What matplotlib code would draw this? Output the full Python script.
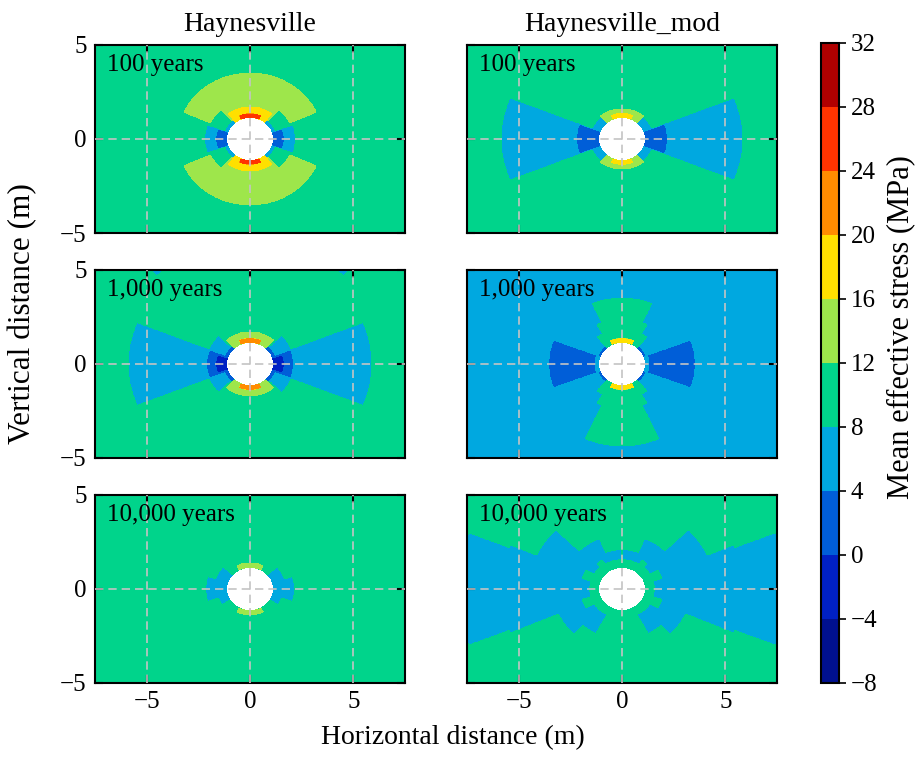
import numpy as np
import matplotlib
matplotlib.use('Agg')
import matplotlib.pyplot as plt

plt.rcParams['font.family'] = ['Liberation Serif', 'DejaVu Serif']
plt.rcParams['axes.unicode_minus'] = True

# contour levels and colours (MPa)
LEVELS = np.arange(-8, 33, 4)
COLORS = ['#00108f', '#0020c4', '#005ed8', '#00a8e0', '#00d48b',
          '#9ee64b', '#ffe000', '#ff8c00', '#ff3400', '#b00000']

CASES = ['Haynesville', 'Haynesville_mod']
TIMES = ['100 years', '1,000 years', '10,000 years']
HOLE_R = 1.13

# far-field stress of each panel (row = time, col = case)
BASE = [[10, 10], [10, 6], [10, 10]]

# zones:
# r_in, r_out (m), angle from horizontal lo, hi (deg), stress (MPa), side (u/d/ud)
hv_100 = [
    (1.1, 3.5, 24, 90, 14, 'ud'),
    (1.1, 2.1, 19, 48, 10, 'ud'),
    (1.1, 2.2, 0, 20, 6, 'ud'),
    (1.1, 1.65, 0, 19, 2, 'ud'),
    (1.1, 1.3, 20, 52, 6, 'ud'),
    (1.1, 1.7, 52, 90, 18, 'ud'),
    (1.15, 1.33, 68, 90, 26, 'ud'),
]
hvm_100 = [
    (1.1, 5.85, 0, 22, 6, 'ud'),
    (1.1, 1.55, 22, 50, 6, 'ud'),
    (1.1, 2.2, 0, 21, 2, 'ud'),
    (1.1, 1.6, 50, 90, 14, 'ud'),
    (1.15, 1.35, 68, 90, 18, 'ud'),
]
hv_1000 = [
    (1.1, 5.9, 0, 22, 6, 'ud'),
    (1.1, 2.15, 22, 45, 6, 'ud'),
    (1.1, 2.1, 0, 21, 2, 'ud'),
    (1.1, 1.65, 0, 17, -2, 'ud'),
    (1.1, 1.3, 21, 48, 2, 'ud'),
    (1.1, 1.7, 48, 90, 14, 'ud'),
    (1.15, 1.35, 68, 90, 22, 'ud'),
    (6.5, 7.0, 46, 49, 6, 'u'),
]
hvm_1000 = [
    (1.1, 2.4, 60, 90, 10, 'ud'),
    (2.4, 3.5, 66, 90, 10, 'u'),
    (2.4, 4.35, 66, 90, 10, 'd'),
    (1.1, 1.85, 50, 90, 10, 'ud'),
    (1.1, 3.55, 0, 21, 2, 'ud'),
    (1.1, 1.3, 0, 20, 6, 'ud'),
    (1.1, 1.25, 20, 50, 2, 'ud'),
    (1.15, 1.35, 66, 90, 18, 'ud'),
]
hv_10000 = [
    (1.1, 2.15, 0, 18, 6, 'ud'),
    (1.1, 1.75, 18, 42, 6, 'u'),
    (1.1, 1.6, 18, 32, 6, 'd'),
    (1.15, 1.38, 63, 90, 14, 'ud'),
]
hvm_10000 = [
    (5.9, 8.0, 0, 22, 6, 'ud'),
    (1.55, 5.9, 0, 23.5, 6, 'ud'),
    (1.55, 4.5, 23.5, 44.5, 6, 'u'),
    (1.55, 2.9, 44.5, 68, 6, 'u'),
    (1.55, 2.1, 68, 90, 6, 'u'),
    (1.55, 3.35, 23.5, 46, 6, 'd'),
    (1.55, 2.7, 46, 62, 6, 'd'),
    (1.55, 2.0, 16, 30, 10, 'ud'),
    (1.55, 1.8, 48, 58, 10, 'u'),
]
ZONES = [[hv_100, hvm_100], [hv_1000, hvm_1000], [hv_10000, hvm_10000]]

x = np.linspace(-7.5, 7.5, 751)
y = np.linspace(-5, 5, 501)
X, Y = np.meshgrid(x, y)


def build_field(base, zones):
    r = np.hypot(X, Y)
    th = np.degrees(np.arctan2(np.abs(Y), np.abs(X)))
    up = Y >= 0
    f = np.full(X.shape, float(base))
    for r0, r1, t0, t1, val, side in zones:
        m = (r >= r0) & (r < r1) & (th >= t0) & (th < t1)
        if side == 'u':
            m &= up
        elif side == 'd':
            m &= ~up
        f[m] = val
    f[r < HOLE_R] = np.nan
    return np.ma.masked_invalid(f)


fig = plt.figure(figsize=(9.2, 7.57), dpi=100)
col_left = [0.1033, 0.5076]
row_bottom = [0.6922, 0.395, 0.0978]
w, h = 0.337, 0.2484

for i in range(3):
    for j in range(2):
        ax = fig.add_axes([col_left[j], row_bottom[i], w, h])
        f = build_field(BASE[i][j], ZONES[i][j])
        cs = ax.contourf(X, Y, f, levels=LEVELS, colors=COLORS)
        for xv in (-5, 0, 5):
            ax.axvline(xv, color='#c4c4c4', lw=1.2, ls=(0, (5, 3)), zorder=3)
        ax.axhline(0, color='#c4c4c4', lw=1.2, ls=(0, (5, 3)), zorder=3)
        ax.set_xlim(-7.5, 7.5)
        ax.set_ylim(-5, 5)
        ax.set_xticks([-5, 0, 5])
        ax.set_yticks([-5, 0, 5])
        ax.tick_params(direction='in', top=True, right=True, length=6,
                       width=1.5, labelsize=18, pad=6)
        for s in ax.spines.values():
            s.set_linewidth(1.5)
        if i < 2:
            ax.set_xticklabels([])
        if j == 1:
            ax.set_yticklabels([])
        if i == 0:
            ax.set_title(CASES[j], fontsize=20, pad=10)
        ax.text(0.04, 0.95, TIMES[i], transform=ax.transAxes, fontsize=18,
                ha='left', va='top', zorder=4)

cax = fig.add_axes([0.8924, 0.0978, 0.0196, 0.8455])
cb = fig.colorbar(cs, cax=cax, ticks=LEVELS)
cb.ax.tick_params(labelsize=18, width=1.2, length=5)
cb.outline.set_linewidth(1.5)
cb.set_label('Mean effective stress (MPa)', fontsize=22, labelpad=6)
cb.ax.yaxis.label.set_y(0.556)

fig.text(0.492, 0.025, 'Horizontal distance (m)', ha='center', va='center', fontsize=20)
fig.text(0.024, 0.586, 'Vertical distance (m)', ha='center', va='center',
         rotation=90, fontsize=22.5)

fig.savefig('out.png', dpi=100, facecolor='white')
